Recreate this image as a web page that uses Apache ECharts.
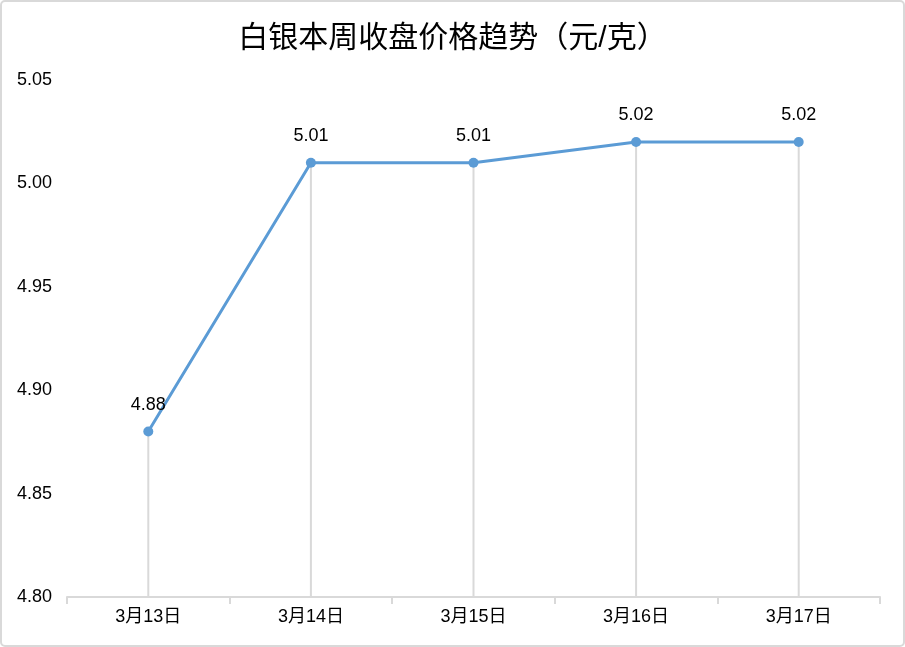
<!DOCTYPE html>
<html>
<head>
<meta charset="utf-8">
<script src="https://cdn.jsdelivr.net/npm/echarts@6/dist/echarts.min.js"></script>
<style>
  html, body { margin: 0; padding: 0; background: #fff; }
  #chart { width: 905px; height: 647px; }
</style>
</head>
<body>
<div id="chart"></div>
<script>
var dates = ['3月13日', '3月14日', '3月15日', '3月16日', '3月17日'];
var prices = [4.88, 5.01, 5.01, 5.02, 5.02];

var myChart = echarts.init(document.getElementById('chart'));
var font = 'Helvetica, Arial, "Noto Sans CJK SC", sans-serif';

var option = {
  animation: false,
  textStyle: { fontFamily: font },
  title: {
    text: '白银本周收盘价格趋势（元/克）',
    left: 'center',
    top: 19,
    textStyle: { fontSize: 30, fontWeight: 'normal', color: '#000', fontFamily: font }
  },
  graphic: [{
    type: 'rect',
    shape: { x: 1, y: 1, width: 903, height: 645, r: 4 },
    style: { fill: 'none', stroke: '#d9d9d9', lineWidth: 2 },
    silent: true
  }],
  grid: { left: 67, right: 25, top: 80, bottom: 50 },
  xAxis: {
    type: 'category',
    data: dates,
    boundaryGap: true,
    axisLine: { lineStyle: { color: '#d9d9d9', width: 2 } },
    axisTick: { show: true, length: 7, lineStyle: { color: '#d9d9d9', width: 2 } },
    axisLabel: { color: '#000', fontSize: 18, margin: 11 }
  },
  yAxis: {
    type: 'value',
    min: 4.8,
    max: 5.05,
    interval: 0.05,
    axisLine: { show: false },
    axisTick: { show: false },
    splitLine: { show: false },
    axisLabel: {
      color: '#000',
      fontSize: 18,
      align: 'left',
      margin: 50,
      formatter: function (v) { return v.toFixed(2); }
    }
  },
  series: [
    {
      type: 'bar',
      data: prices,
      barWidth: 2,
      barGap: '-100%',
      itemStyle: { color: '#d9d9d9' },
      silent: true,
      z: 1
    },
    {
      type: 'line',
      data: prices,
      symbol: 'circle',
      symbolSize: 10,
      lineStyle: { color: '#5b9bd5', width: 3 },
      itemStyle: { color: '#5b9bd5' },
      label: {
        show: true,
        position: 'top',
        distance: 13,
        color: '#000',
        fontSize: 18,
        formatter: function (p) { return p.value.toFixed(2); }
      },
      z: 3
    }
  ]
};

myChart.setOption(option);
</script>
</body>
</html>
